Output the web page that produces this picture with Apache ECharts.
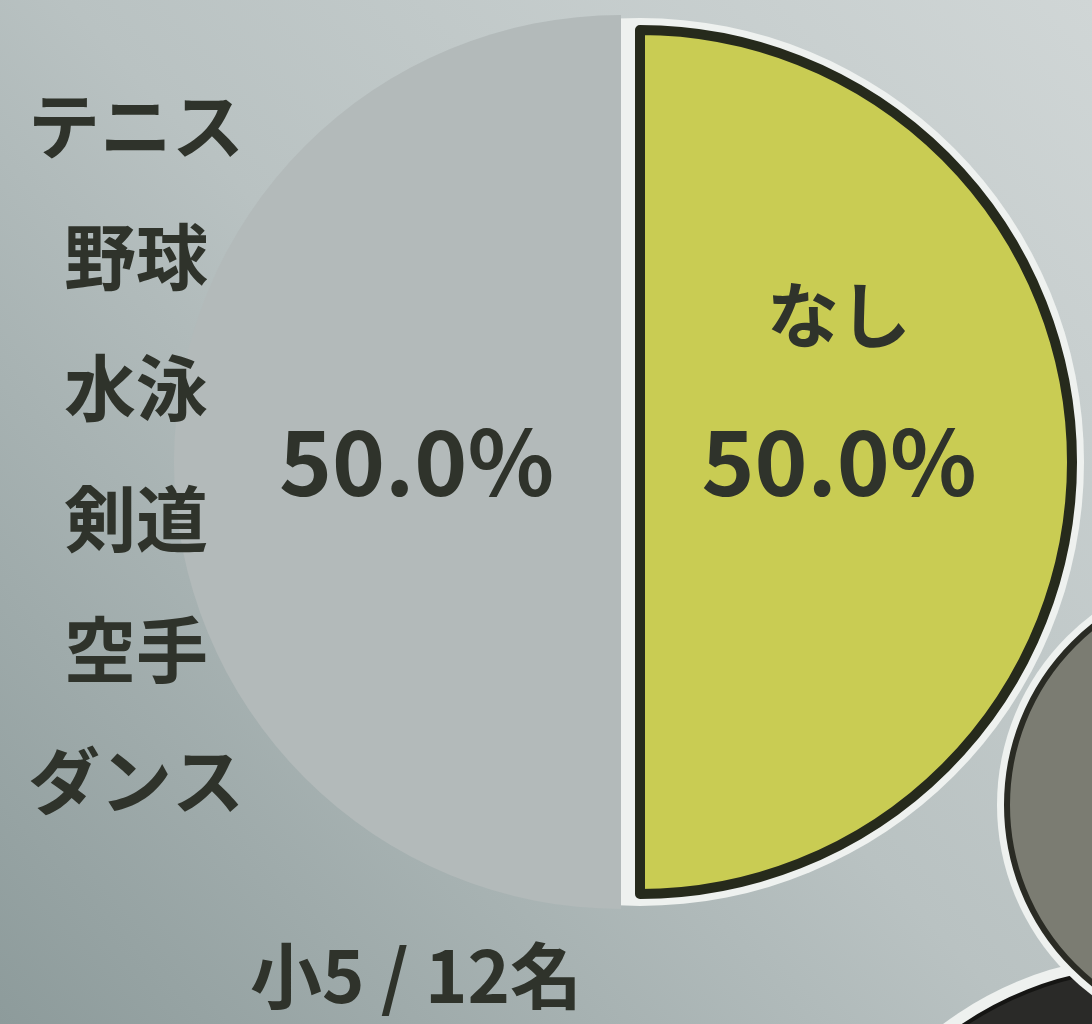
<!DOCTYPE html>
<html>
<head>
<meta charset="utf-8">
<title>小5 / 12名</title>
<script src="https://cdn.jsdelivr.net/npm/echarts@6/dist/echarts.min.js"></script>
<style>
  html, body { margin: 0; padding: 0; }
  #chart { width: 1092px; height: 1024px; }
</style>
</head>
<body>
<div id="chart"></div>
<script>
// 円グラフ（小5）
const sports = ['テニス', '野球', '水泳', '剣道', '空手', 'ダンス']
const sliceNames = ['なし', 'あり']
const sliceValues = [6, 6]
const caption = '小5 / 12名'
// 右端に見切れている別のグラフ
const sideValues = [1]

const font = '"Noto Sans CJK JP", "Noto Sans", sans-serif'
const ink = '#2f332b'

const pieData = sliceNames.map((n, i) => ({ name: n, value: sliceValues[i] }))
const pct = p => p.percent.toFixed(1) + '%'

function sportLabels() {
  return sports.map((s, i) => ({
    type: 'text',
    z: 100,
    left: 140 - (s.length === 3 ? 112 : 76),
    top: 90 + i * 131,
    silent: true,
    style: {
      text: s,
      fill: ink,
      font: 'bold 72px ' + font
    }
  }))
}

const chart = echarts.init(document.getElementById('chart'))
chart.setOption({
  backgroundColor: {
    type: 'linear', x: 1, y: 0, x2: 0, y2: 1,
    colorStops: [
      { offset: 0, color: '#d0d6d6' },
      { offset: 0.5, color: '#b9c2c2' },
      { offset: 1, color: '#8d9b9b' }
    ]
  },
  animation: false,
  graphic: sportLabels().concat([{
    type: 'text',
    z: 100,
    left: 250,
    top: 940,
    silent: true,
    style: { text: caption, fill: ink, font: 'bold 72px ' + font }
  }]),
  series: [
    // 右下の見切れた円
    {
      type: 'pie', silent: true, center: [1150, 1300], radius: 345,
      label: { show: false },
      data: sideValues.map(v => ({ value: v, itemStyle: { color: '#eef1ef' } }))
    },
    {
      type: 'pie', silent: true, center: [1150, 1300], radius: 332,
      label: { show: false },
      data: sideValues.map(v => ({ value: v, itemStyle: { color: '#2a2a28', borderColor: '#151513', borderWidth: 4 } }))
    },
    {
      type: 'pie', silent: true, center: [1235, 805], radius: 238,
      label: { show: false },
      data: sideValues.map(v => ({ value: v, itemStyle: { color: '#eef1ef' } }))
    },
    {
      type: 'pie', silent: true, center: [1235, 805], radius: 228,
      label: { show: false },
      data: sideValues.map(v => ({ value: v, itemStyle: { color: '#7b7c72', borderColor: '#2a2b24', borderWidth: 6 } }))
    },
    // 白い縁取り
    {
      type: 'pie', silent: true, center: [640, 462], radius: 444,
      label: { show: false },
      data: pieData.map(d => ({ name: d.name, value: d.value, itemStyle: { color: '#eef1ef' } }))
    },
    // 灰色の半分
    {
      type: 'pie', center: [621, 462], radius: 447,
      data: pieData.map((d, i) => ({
        name: d.name,
        value: d.value,
        itemStyle: { color: i === 0 ? 'transparent' : '#b3baba' },
        label: i === 0 ? { show: false } : {
          show: true,
          position: 'inside',
          formatter: pct,
          offset: [22, 0],
          color: ink,
          fontFamily: font,
          fontSize: 90,
          fontWeight: 'bold'
        }
      }))
    },
    // 「なし」の半分
    {
      type: 'pie', center: [640, 462], radius: 432,
      data: pieData.map((d, i) => ({
        name: d.name,
        value: d.value,
        itemStyle: i === 0
          ? { color: '#c9cc53', borderColor: '#262a1c', borderWidth: 10 }
          : { color: 'transparent' },
        label: i === 0 ? {
          show: true,
          position: 'inside',
          offset: [-20, 0],
          formatter: p => '{n|' + p.name + '}\n{p|' + pct(p) + '}\n{e|}',
          rich: {
            n: { fontSize: 72, lineHeight: 147, color: ink, fontFamily: font, fontWeight: 'bold' },
            p: { fontSize: 90, lineHeight: 147, color: ink, fontFamily: font, fontWeight: 'bold' },
            e: { lineHeight: 147 }
          }
        } : { show: false }
      }))
    }
  ]
})
</script>
</body>
</html>
